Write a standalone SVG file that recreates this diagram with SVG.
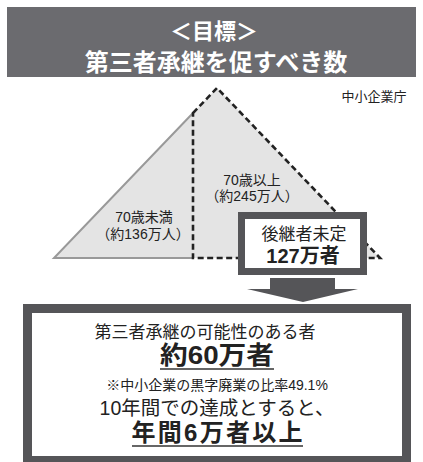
<svg xmlns="http://www.w3.org/2000/svg" width="423" height="462" viewBox="0 0 423 462">
<style>
text{font-family:"Liberation Sans","Noto Sans CJK JP",sans-serif;fill:#222;text-anchor:middle}
.h{fill:#fff;font-weight:bold}
.b{font-weight:bold}
.dash{fill:none;stroke:#222;stroke-width:2.6;stroke-dasharray:6 3.5}
.frame{fill:#fff;stroke:#555558}
.ul{stroke:#333;stroke-width:1.5}
</style>
<rect width="423" height="462" fill="#fff"/>
<g id="header">
<rect x="7" y="7" width="409" height="70" fill="#6b6b6f"/>
<text class="h" x="214" y="39" font-size="22">＜目標＞</text>
<text class="h" x="216" y="71" font-size="24">第三者承継を促すべき数</text>
</g>
<g id="source">
<text x="374" y="101" font-size="13">中小企業庁</text>
</g>
<g id="pyramid">
<polygon points="54,258 217,88 380,258" fill="#e4e4e4"/>
<polyline points="193,113 54,258 193,258" fill="none" stroke="#999" stroke-width="2"/>
</g>
<g id="connectors">
<path class="dash" d="M193,113 L217,88 L380,258 L193,258 Z"/>
<polygon points="270,278 335,278 335,289 358,289 303,302 247,289 270,289" fill="#555558"/>
</g>
<g id="under70">
<text x="144" y="222" font-size="14">70歳未満</text>
<text x="143" y="239" font-size="14">（約136万人）</text>
</g>
<g id="over70">
<text x="252" y="185" font-size="14">70歳以上</text>
<text x="252" y="201" font-size="14">（約245万人）</text>
</g>
<g id="undecided">
<rect class="frame" x="241.5" y="215.5" width="122" height="56" stroke-width="7"/>
<text x="304" y="240" font-size="17">後継者未定</text>
<text class="b" x="303" y="263" font-size="20">127万者</text>
</g>
<g id="result">
<rect class="frame" x="27.5" y="308.5" width="379" height="152" stroke-width="9"/>
<text x="205" y="338" font-size="17">第三者承継の可能性のある者</text>
<text class="b" x="217" y="364" font-size="25" textLength="114" lengthAdjust="spacingAndGlyphs">約60万者</text>
<line class="ul" x1="160" y1="369" x2="274" y2="369"/>
<text x="217" y="390" font-size="14">※中小企業の黒字廃業の比率49.1%</text>
<text x="217" y="415" font-size="19.5">10年間での達成とすると、</text>
<text class="b" x="217" y="441" font-size="24" textLength="171" lengthAdjust="spacing">年間6万者以上</text>
<line class="ul" x1="132" y1="446" x2="303" y2="446"/>
</g>
</svg>
